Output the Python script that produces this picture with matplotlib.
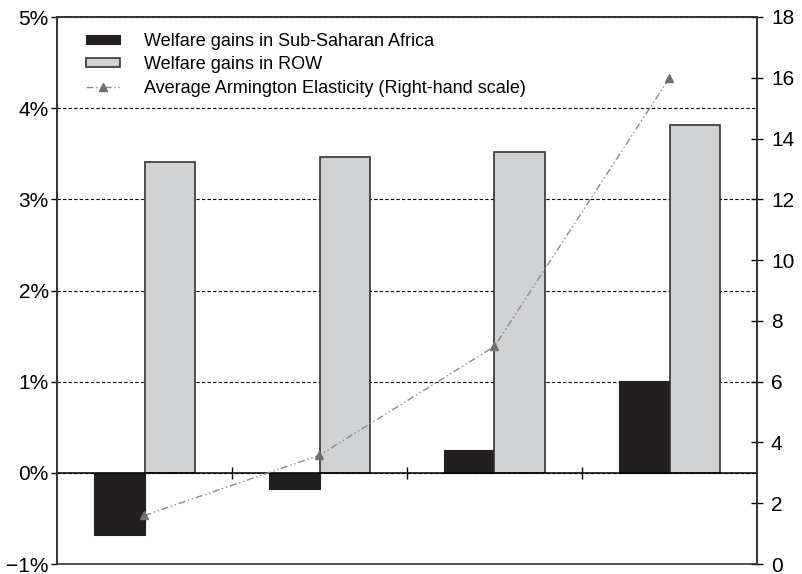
import numpy as np
import matplotlib
matplotlib.use('Agg')
import matplotlib.pyplot as plt

plt.rcParams['font.family'] = ['Liberation Sans', 'DejaVu Sans']

# four scenarios (no category labels shown on the chart)
groups = [0, 1, 2, 3]
ssa_gains = [-0.68, -0.18, 0.25, 1.01]      # % welfare gains, Sub-Saharan Africa
row_gains = [3.41, 3.46, 3.52, 3.82]        # % welfare gains, rest of world
armington = [1.6, 3.58, 7.16, 16.0]         # average Armington elasticity (right axis)

left_ticks = [-1, 0, 1, 2, 3, 4, 5]
left_labels = ['\u22121%', '0%', '1%', '2%', '3%', '4%', '5%']
right_ticks = list(range(0, 19, 2))

fig = plt.figure(figsize=(8.02, 5.74), dpi=100)
ax = fig.add_axes([57/802, 1 - 564/574, 700/802, 547/574])

x = np.array(groups)
w = 0.286
ax.bar(x - w/2, ssa_gains, w, color='#231f20', edgecolor='#231f20', lw=0.8,
       label='Welfare gains in Sub-Saharan Africa', zorder=2)
ax.bar(x + w/2, row_gains, w, color='#d1d2d4', edgecolor='#333333', lw=1.2,
       label='Welfare gains in ROW', zorder=2)

ax.set_xlim(-0.5, 3.5)
ax.set_ylim(-1, 5)
ax.set_yticks(left_ticks)
ax.set_yticklabels(left_labels, fontsize=15)
ax.tick_params(axis='y', direction='out', length=4, width=1, pad=2)

# x ticks between groups sit on the zero line
ax.spines['bottom'].set_position(('data', 0))
ax.set_xticks([0.5, 1.5, 2.5])
ax.set_xticklabels([])
ax.tick_params(axis='x', direction='inout', length=8, width=1)
for s in ax.spines.values():
    s.set_linewidth(1.2)
    s.set_color('#333333')
ax.spines['bottom'].set_color('black')
ax.spines['bottom'].set_linewidth(1.1)

ax.yaxis.grid(True, linestyle=(0, (3, 2)), color='black', lw=0.8)
ax.set_axisbelow(True)

ax2 = ax.twinx()
ax2.plot(x, armington, color='#8a8a8a', lw=1, linestyle=(0, (5, 2, 1, 2, 1, 2)),
         marker='^', markersize=5.5, markerfacecolor='#707070', markeredgecolor='#707070',
         label='Average Armington Elasticity (Right-hand scale)')
ax2.set_ylim(0, 18)
ax2.set_yticks(right_ticks)
ax2.tick_params(axis='y', direction='inout', length=8, width=1, labelsize=15, pad=6)
for s in ax2.spines.values():
    s.set_linewidth(1.2)
    s.set_color('#333333')

h1, l1 = ax.get_legend_handles_labels()
h2, l2 = ax2.get_legend_handles_labels()
leg = ax2.legend(h1 + h2, l1 + l2, loc='upper left', bbox_to_anchor=(0.0186, 1.0005),
                 frameon=False, fontsize=13, handlelength=1.85, handleheight=0.4,
                 labelspacing=0.35, handletextpad=1.35)

fig.savefig('out.png', dpi=100)
